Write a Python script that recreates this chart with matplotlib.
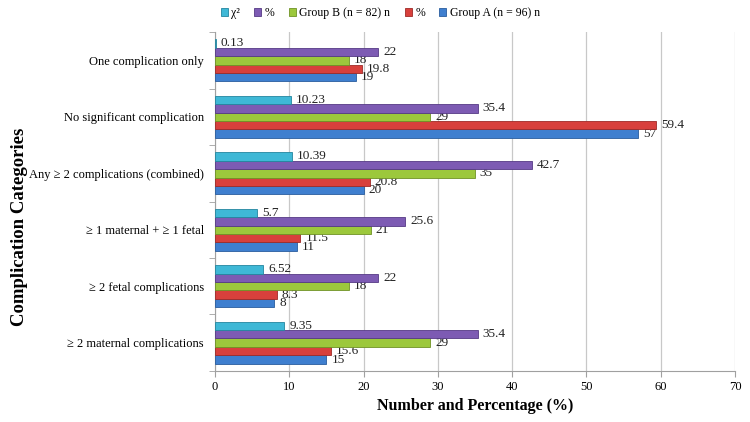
import numpy as np
import matplotlib
matplotlib.use('Agg')
import matplotlib.pyplot as plt
from matplotlib.ticker import MultipleLocator, FixedLocator

plt.rcParams['font.family'] = ['Liberation Serif', 'DejaVu Serif']

# 카테고리 (아래에서 위로)
categories = [
    '\u2265 2 maternal complications',
    '\u2265 2 fetal complications',
    '\u2265 1 maternal + \u2265 1 fetal',
    'Any \u2265 2 complications (combined)',
    'No significant complication',
    'One complication only',
]

group_a_n = [15, 8, 11, 20, 57, 19]
group_a_pct = [15.6, 8.3, 11.5, 20.8, 59.4, 19.8]
group_b_n = [29, 18, 21, 35, 29, 18]
group_b_pct = [35.4, 22, 25.6, 42.7, 35.4, 22]
chi_sq = [9.35, 6.52, 5.7, 10.39, 10.23, 0.13]

series_names = ['Group A (n = 96) n', '%', 'Group B (n = 82) n', '%', '\u03c7\u00b2']
series_vals = [group_a_n, group_a_pct, group_b_n, group_b_pct, chi_sq]
colors = ['#3f7fcf', '#d8403c', '#9cc83c', '#7d5bb3', '#3fb8d6']
edges = ['#2a5d9e', '#9e2a27', '#6f9225', '#553a85', '#23869f']

fig = plt.figure(figsize=(7.5, 4.22), dpi=100)
ax = fig.add_axes([0.2867, 0.121, 0.6933, 0.803])

y = np.arange(len(categories))
h = 0.15
offsets = [-0.3, -0.15, 0.0, 0.15, 0.3]

handles = []
for vals, name, c, ec, off in zip(series_vals, series_names, colors, edges, offsets):
    bars = ax.barh(y + off, vals, height=h, color=c, edgecolor=ec, linewidth=0.6,
                   label=name, zorder=3)
    labels = [f'{v:g}' for v in vals]
    ax.bar_label(bars, labels=labels, padding=3.5, fontsize=9.5, color='#222222')
    handles.append(bars)

ax.set_xlim(0, 70)
ax.set_ylim(-0.5, len(categories) - 0.5)
ax.xaxis.set_major_locator(MultipleLocator(10))
ax.set_yticks(y)
ax.set_yticklabels(categories, fontsize=9)
ax.yaxis.set_minor_locator(FixedLocator(np.arange(-0.5, len(categories), 1.0)))
ax.tick_params(axis='y', which='major', length=0, pad=8)
ax.tick_params(axis='y', which='minor', length=4, color='#a0a0a0')
ax.tick_params(axis='x', length=4, color='#a0a0a0', labelsize=9, pad=3)

ax.grid(axis='x', color='#c8c8c8', linewidth=0.9, zorder=0)
for side in ['top', 'right']:
    ax.spines[side].set_visible(False)
for side in ['left', 'bottom']:
    ax.spines[side].set_color('#a0a0a0')

ax.set_xlabel('Number and Percentage (%)', fontsize=11.5, fontweight='bold', labelpad=4)
ax.set_ylabel('Complication Categories', fontsize=13.5, fontweight='bold')
ax.yaxis.set_label_coords(-0.36, 0.425)

fig.legend(handles[::-1], series_names[::-1], loc='center', bbox_to_anchor=(0.507, 0.969),
           ncol=5, frameon=False, fontsize=8.5, handlelength=0.6, handleheight=0.6,
           handletextpad=0.3, columnspacing=1.2)

fig.savefig('out.png', dpi=100)
